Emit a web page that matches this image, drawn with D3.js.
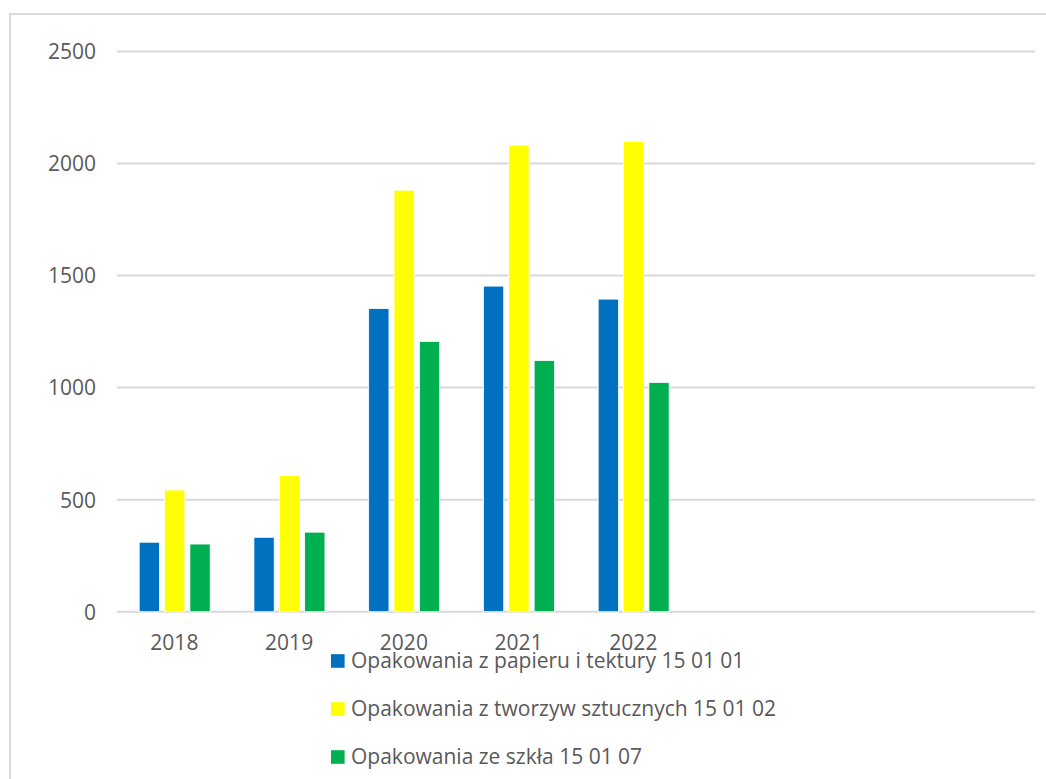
<!DOCTYPE html>
<html><head><meta charset="utf-8">
<script src="https://cdn.jsdelivr.net/npm/d3@7/dist/d3.min.js"></script>
<style>body{margin:0;background:#fff;}svg{display:block;}text{font-family:"Open Sans",sans-serif;fill:#595959;}</style>
</head><body>
<svg id="c" width="1046" height="779"></svg>
<script>
const categories = ["2018","2019","2020","2021","2022","","",""];
const seriesNames = ["Opakowania z papieru i tektury 15 01 01","Opakowania z tworzyw sztucznych 15 01 02","Opakowania ze szkła 15 01 07"];
const paper = [310, 332, 1353, 1453, 1395];
const plastic = [543, 607, 1881, 2082, 2099];
const glass = [302, 355, 1206, 1121, 1023];
const yTicks = [0, 500, 1000, 1500, 2000, 2500];
const colors = ["#0070C0", "#FFFF00", "#00B050"];
const series = [paper, plastic, glass];

const svg = d3.select("#c");
// outer border
svg.append("rect").attr("x",10).attr("y",14).attr("width",1100).attr("height",900)
  .attr("fill","none").attr("stroke","#d9d9d9").attr("stroke-width",2);

const pLeft = 117, pRight = 1035, pTop = 51.5, pBottom = 611.7;
const x = d3.scaleBand().domain(d3.range(categories.length)).range([pLeft, pRight]).paddingInner(0).paddingOuter(0);
const y = d3.scaleLinear().domain([0, 2500]).range([pBottom, pTop]);
const groupW = 71;
const inner = d3.scaleBand().domain(d3.range(series.length)).range([0, groupW]).paddingInner(0.2).paddingOuter(0);
const groupOffset = (x.bandwidth() - groupW) / 2 + 0.3;

// gridlines
svg.append("g").selectAll("line").data(yTicks).join("line")
  .attr("x1", pLeft).attr("x2", pRight)
  .attr("y1", d => y(d)).attr("y2", d => y(d))
  .attr("stroke", "#d9d9d9").attr("stroke-width", 2);

// y axis labels
const yAxis = d3.axisLeft(y).tickValues(yTicks).tickSize(0).tickPadding(0).tickFormat(d3.format("d"));
const ya = svg.append("g").attr("transform", "translate(96,0)").call(yAxis);
ya.select(".domain").remove();
ya.selectAll("text").style("font-size","21px").attr("fill","#595959").attr("dy","0.35em");

// x axis labels
const xAxis = d3.axisBottom(x).tickSize(0).tickPadding(0).tickFormat(i => categories[i]);
const xa = svg.append("g").attr("transform", `translate(0,${pBottom})`).call(xAxis);
xa.select(".domain").remove();
xa.selectAll("text").style("font-size","21px").attr("fill","#595959").attr("dy","0").attr("y", 38);

// bars
series.forEach((vals, s) => {
  svg.append("g").selectAll("rect").data(vals).join("rect")
    .attr("x", (d, i) => x(i) + groupOffset + inner(s))
    .attr("width", inner.bandwidth())
    .attr("y", d => y(d))
    .attr("height", d => y(0) - y(d))
    .attr("fill", colors[s])
    .attr("stroke", "#ffffff").attr("stroke-width", 0.8);
});

// legend
const lg = svg.append("g");
seriesNames.forEach((name, i) => {
  const cy = 661 + i * 48;
  lg.append("rect").attr("x", 331).attr("y", cy - 6.8).attr("width", 13.6).attr("height", 13.6).attr("fill", colors[i]);
  lg.append("text").attr("x", 351).attr("y", cy).attr("dy","0.35em").style("font-size","21px").text(name);
});
</script>
</body></html>
